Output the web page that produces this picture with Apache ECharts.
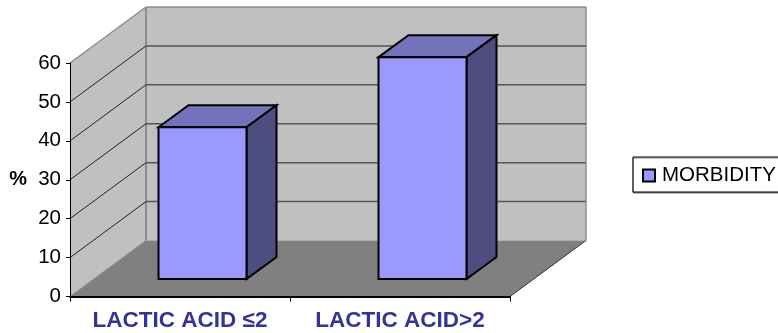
<!DOCTYPE html>
<html>
<head>
<meta charset="utf-8">
<style>
  html, body { margin: 0; padding: 0; background: #fff; }
  #chart { width: 778px; height: 333px; }
</style>
<script src="https://cdn.jsdelivr.net/npm/echarts@6/dist/echarts.min.js"></script>
</head>
<body>
<div id="chart"></div>
<script>
const categories = ['LACTIC ACID ≤2', 'LACTIC ACID>2'];
const morbidity = [39, 57];
const gridTicks = [10, 20, 30, 40, 50];

// depth of the fake 3d box, in pixels
const wallDx = 76;
const wallDy = -56;
const barDx = 30;
const barDy = -22;
const barShiftX = 22.5;
const barShiftY = -17.5;
const barWidthRate = 0.4;

const colors = {
  wall: '#c0c0c0',
  wallEdge: '#8c8c8c',
  floor: '#808080',
  grid: '#555555',
  barFront: '#9999ff',
  barTop: '#7373bb',
  barSide: '#4d4d80',
};

function poly(points, fill, stroke, lineWidth) {
  return {
    type: 'polygon',
    shape: { points },
    style: { fill, stroke: stroke || 'none', lineWidth: lineWidth || 0 },
  };
}

function line(x1, y1, x2, y2, stroke, lineWidth) {
  return {
    type: 'line',
    shape: { x1, y1, x2, y2 },
    style: { stroke, lineWidth },
  };
}

function renderWalls(params, api) {
  const { x, y, width, height } = params.coordSys;
  const b = y + height;
  const r = x + width;
  return {
    type: 'group',
    children: [
      poly([[x, y], [x + wallDx, y + wallDy], [x + wallDx, b + wallDy], [x, b]], colors.wall),
      poly([[x + wallDx, y + wallDy], [r + wallDx, y + wallDy], [r + wallDx, b + wallDy], [x + wallDx, b + wallDy]], colors.wall),
      poly([[x, b], [x + wallDx, b + wallDy], [r + wallDx, b + wallDy], [r, b]], colors.floor),
      line(x, y, x + wallDx, y + wallDy, colors.wallEdge, 1.5),
      line(x + wallDx, y + wallDy, r + wallDx, y + wallDy, colors.wallEdge, 1.5),
      line(r + wallDx, y + wallDy, r + wallDx, b + wallDy, colors.wallEdge, 1.5),
      line(x + wallDx, y + wallDy, x + wallDx, b + wallDy, colors.wallEdge, 2),
      line(x, b, x + wallDx, b + wallDy, colors.wallEdge, 1),
      line(r, b, r + wallDx, b + wallDy, '#333333', 1),
    ],
  };
}

function renderGridLine(params, api) {
  const { x, width } = params.coordSys;
  const py = api.coord([0, api.value(0)])[1];
  return {
    type: 'group',
    children: [
      line(x, py, x + wallDx, py + wallDy, '#222222', 1),
      line(x + wallDx, py + wallDy, x + width + wallDx, py + wallDy, colors.grid, 1.5),
    ],
  };
}

function renderBar(params, api) {
  const top = api.coord([api.value(0), api.value(1)]);
  const base = api.coord([api.value(0), 0]);
  const w = api.size([1, 0])[0] * barWidthRate;
  const l = top[0] - w / 2 + barShiftX;
  const r = l + w;
  const t = top[1] + barShiftY;
  const b = base[1] + barShiftY;
  return {
    type: 'group',
    children: [
      poly([[l, t], [l + barDx, t + barDy], [r + barDx, t + barDy], [r, t]], colors.barTop, '#000', 2),
      poly([[r, t], [r + barDx, t + barDy], [r + barDx, b + barDy], [r, b]], colors.barSide, '#000', 2),
      poly([[l, t], [r, t], [r, b], [l, b]], colors.barFront, '#000', 2),
    ],
  };
}

const chart = echarts.init(document.getElementById('chart'), null, { renderer: 'canvas' });
chart.setOption({
  animation: false,
  backgroundColor: '#ffffff',
  textStyle: { fontFamily: '"Liberation Sans", Arial, sans-serif' },
  grid: { left: 70, top: 63, width: 440, height: 233.5 },
  legend: {
    left: 633,
    top: 157,
    data: ['MORBIDITY'],
    icon: 'rect',
    itemWidth: 12,
    itemHeight: 12,
    itemGap: 0,
    padding: [8, 8, 6, 9],
    backgroundColor: '#ffffff',
    borderColor: '#000000',
    borderWidth: 1,
    shadowColor: '#808080',
    shadowOffsetY: 1,
    shadowOffsetX: 0,
    shadowBlur: 0,
    itemStyle: { borderColor: '#000000', borderWidth: 2 },
    textStyle: { color: '#000000', fontSize: 20.5, padding: [0, 0, 0, 2] },
    selectedMode: false,
  },
  xAxis: {
    type: 'category',
    data: categories,
    axisLine: { lineStyle: { color: '#000000', width: 2 } },
    axisTick: { show: true, interval: 0, length: 5, lineStyle: { color: '#000000', width: 1 } },
    axisLabel: { color: '#333399', fontSize: 22.5, fontWeight: 'bold', margin: 13, interval: 0, hideOverlap: false },
    z: 5,
  },
  yAxis: {
    type: 'value',
    min: 0,
    max: 60,
    interval: 10,
    name: '%',
    nameLocation: 'middle',
    nameRotate: 0,
    nameGap: 43,
    nameTextStyle: { color: '#000000', fontSize: 20, fontWeight: 'bold' },
    axisLine: { show: true, lineStyle: { color: '#000000', width: 1 } },
    axisTick: { show: true, length: 4, lineStyle: { color: '#000000' } },
    axisLabel: { color: '#000000', fontSize: 20.5, margin: 9, padding: [2, 0, 0, 0] },
    splitLine: { show: false },
    z: 5,
  },
  series: [
    {
      type: 'custom',
      name: 'walls',
      silent: true,
      clip: false,
      z: 1,
      data: [0],
      renderItem: renderWalls,
    },
    {
      type: 'custom',
      name: 'gridlines',
      silent: true,
      clip: false,
      z: 2,
      encode: { y: 0 },
      data: gridTicks,
      renderItem: renderGridLine,
    },
    {
      type: 'custom',
      name: 'MORBIDITY',
      clip: false,
      z: 3,
      itemStyle: { color: colors.barFront },
      encode: { x: 0, y: 1 },
      data: morbidity.map((v, i) => [i, v]),
      renderItem: renderBar,
    },
  ],
});
</script>
</body>
</html>
